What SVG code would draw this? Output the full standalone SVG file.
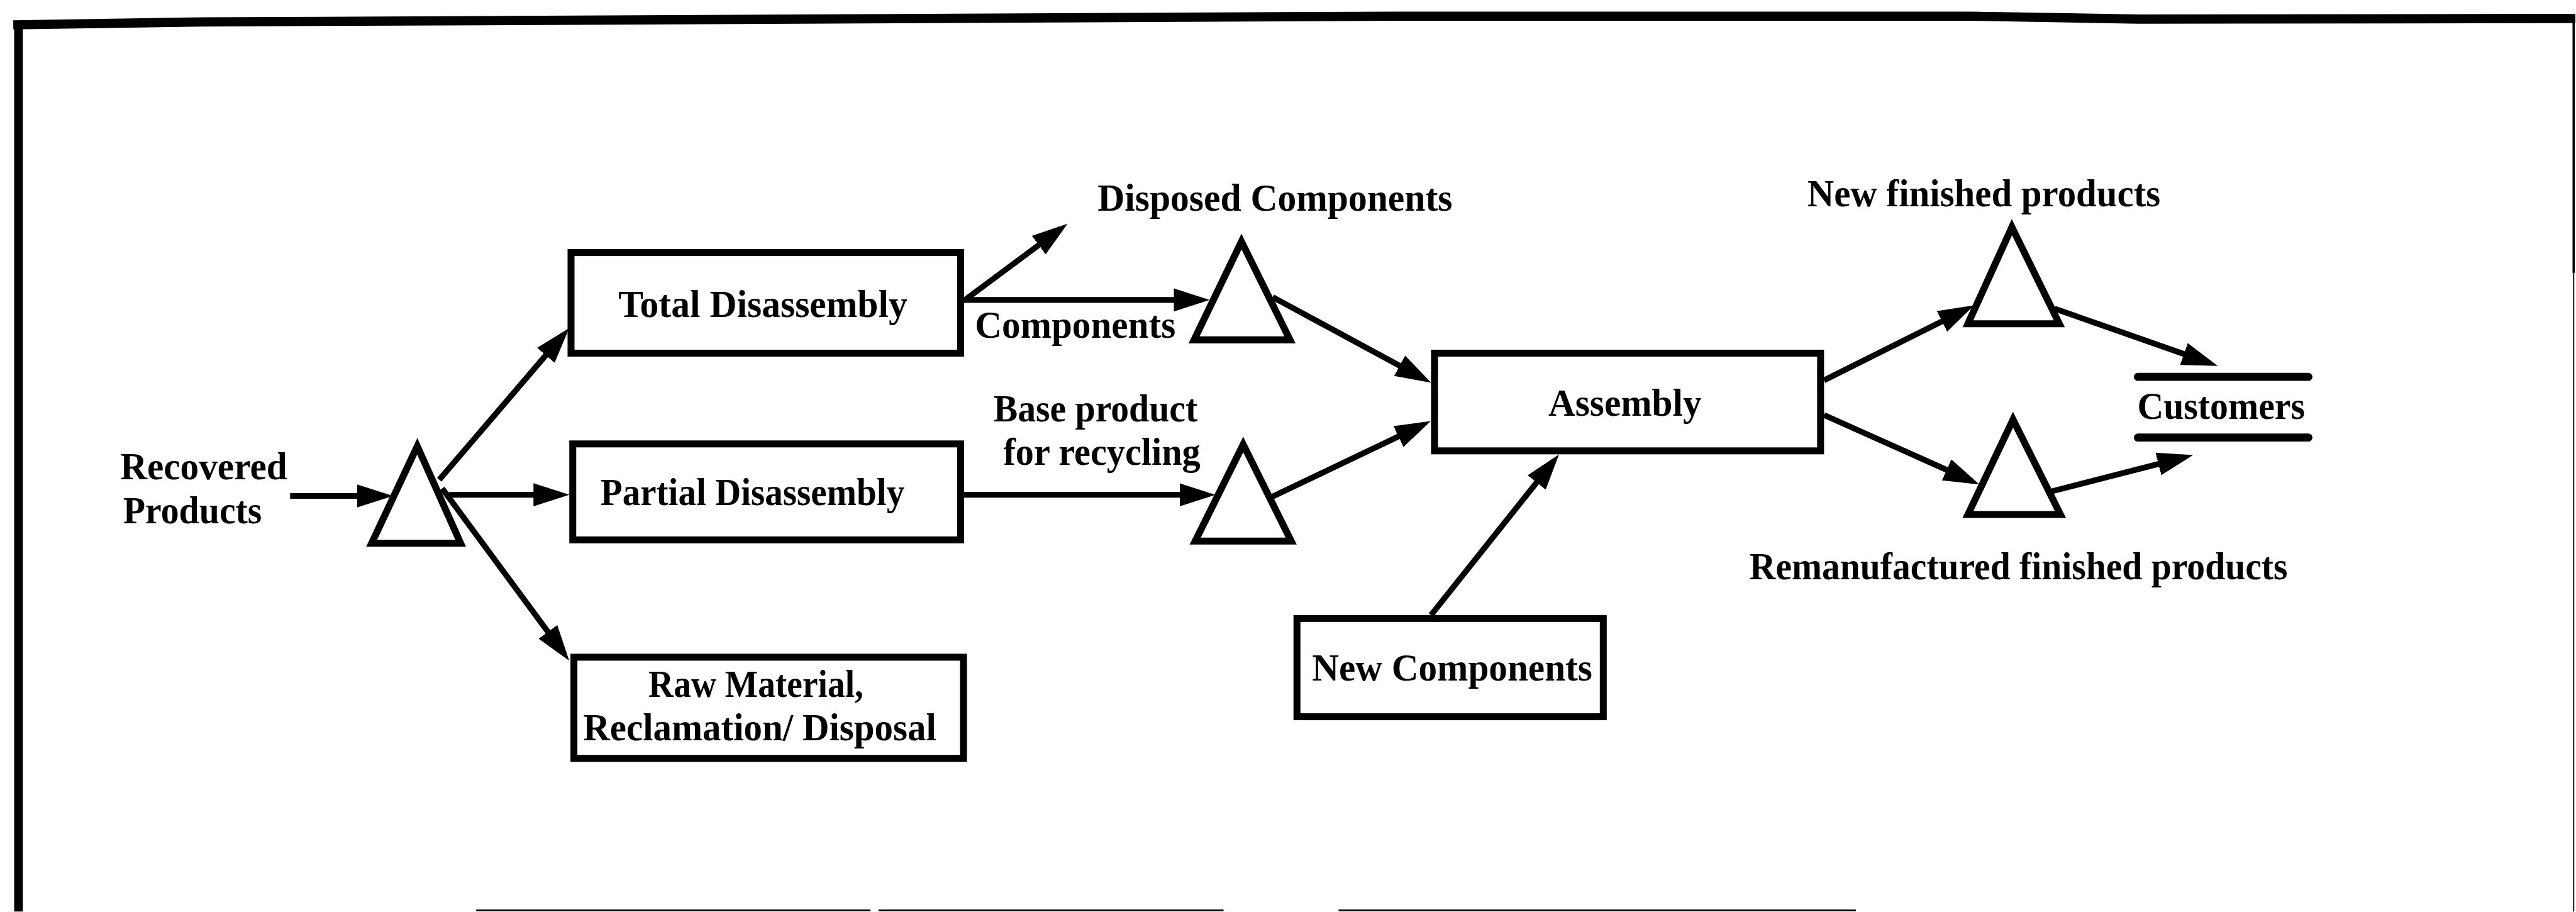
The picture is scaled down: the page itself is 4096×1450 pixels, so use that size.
<svg xmlns="http://www.w3.org/2000/svg" width="4096" height="1450" viewBox="0 0 4096 1450">
  <style>
    .box { fill: #fff; stroke: #000; stroke-width: 12; }
    .tri { fill: #fff; stroke: #000; stroke-width: 12; stroke-linejoin: miter; }
    .edge { fill: none; stroke: #000; stroke-width: 10; marker-end: url(#head); }
    .rule { fill: none; stroke: #000; stroke-width: 14; stroke-linecap: round; }
    .frame { fill: none; stroke: #000; }
    .lbl { font-family: "Liberation Serif", "Times New Roman", serif; font-weight: bold; font-size: 67px; fill: #000; }
  </style>
  <defs>
    <marker id="head" viewBox="0 0 62 42" refX="47" refY="21" markerWidth="62" markerHeight="42" markerUnits="userSpaceOnUse" orient="auto">
      <path d="M0,1 L62,21 L0,41 Z" fill="#000"/>
    </marker>
  </defs>
  <rect width="4096" height="1450" fill="#fff"/>
  <g transform="scale(0.919)">
    <!-- page frame -->
    <g id="frame">
      <path class="frame" stroke-width="16" d="M23 43 L350 38 L2415 28 L3410 28 L3700 33 L4456 32"/>
      <path class="frame" stroke-width="15" d="M32 36 L32 1577"/>
      <path class="frame" stroke-width="4" d="M4453 32 L4453 472"/>
      <path class="frame" stroke-width="2" stroke="#999" d="M4453 472 L4453 1577"/>
      <path class="frame" stroke-width="3" stroke="#bbb" d="M824 1575 L1506 1575 M1520 1575 L2117 1575 M2316 1575 L3211 1575"/>
    </g>

    <!-- connectors -->
    <g id="connectors">
      <path class="edge" d="M502 858 L665 858"/>
      <path class="edge" d="M760 830 L975 579"/>
      <path class="edge" d="M777 856 L970 856"/>
      <path class="edge" d="M765 845 L976 1131"/>
      <path class="edge" d="M1668 520 L1835 396"/>
      <path class="edge" d="M1668 519 L2078 519"/>
      <path class="edge" d="M2202 514 L2463 655"/>
      <path class="edge" d="M1668 856 L2088 856"/>
      <path class="edge" d="M2202 859 L2462 735"/>
      <path class="edge" d="M2476 1064 L2688 798"/>
      <path class="edge" d="M3156 658 L3402 535"/>
      <path class="edge" d="M3555 534 L3823 628"/>
      <path class="edge" d="M3156 718 L3411 832"/>
      <path class="edge" d="M3550 850 L3780 791"/>
    </g>

    <!-- nodes -->
    <g id="recovered-products">
      <text class="lbl" x="208" y="829" textLength="289" lengthAdjust="spacingAndGlyphs">Recovered</text>
      <text class="lbl" x="213" y="905" textLength="240" lengthAdjust="spacingAndGlyphs">Products</text>
    </g>

    <g id="inventory-recovered">
      <polygon class="tri" points="722,772 797,940 643,940"/>
    </g>

    <g id="total-disassembly">
      <rect class="box" x="988" y="437" width="674" height="174"/>
      <text class="lbl" x="1070" y="548" textLength="500" lengthAdjust="spacingAndGlyphs">Total Disassembly</text>
    </g>

    <g id="partial-disassembly">
      <rect class="box" x="991" y="768" width="671" height="166"/>
      <text class="lbl" x="1039" y="874" textLength="526" lengthAdjust="spacingAndGlyphs">Partial Disassembly</text>
    </g>

    <g id="raw-material">
      <rect class="box" x="993" y="1137" width="674" height="175"/>
      <text class="lbl" x="1122" y="1206" textLength="372" lengthAdjust="spacingAndGlyphs">Raw Material,</text>
      <text class="lbl" x="1009" y="1281" textLength="611" lengthAdjust="spacingAndGlyphs">Reclamation/ Disposal</text>
    </g>

    <g id="disposed-components">
      <text class="lbl" x="1899" y="365" textLength="614" lengthAdjust="spacingAndGlyphs">Disposed Components</text>
    </g>

    <g id="components-label">
      <text class="lbl" x="1687" y="584" textLength="347" lengthAdjust="spacingAndGlyphs">Components</text>
    </g>

    <g id="inventory-components">
      <polygon class="tri" points="2148,418 2232,588 2066,588"/>
    </g>

    <g id="base-product-label">
      <text class="lbl" x="1719" y="729" textLength="353" lengthAdjust="spacingAndGlyphs">Base product</text>
      <text class="lbl" x="1736" y="804" textLength="341" lengthAdjust="spacingAndGlyphs">for recycling</text>
    </g>

    <g id="inventory-base">
      <polygon class="tri" points="2151,769 2234,936 2068,936"/>
    </g>

    <g id="assembly">
      <rect class="box" x="2482" y="611" width="668" height="169"/>
      <text class="lbl" x="2679" y="719" textLength="265" lengthAdjust="spacingAndGlyphs">Assembly</text>
    </g>

    <g id="new-components">
      <rect class="box" x="2244" y="1070" width="530" height="170"/>
      <text class="lbl" x="2270" y="1177" textLength="485" lengthAdjust="spacingAndGlyphs">New Components</text>
    </g>

    <g id="new-finished-products">
      <text class="lbl" x="3127" y="357" textLength="611" lengthAdjust="spacingAndGlyphs">New finished products</text>
      <polygon class="tri" points="3481,393 3563,560 3405,560"/>
    </g>

    <g id="remanufactured-finished-products">
      <polygon class="tri" points="3483,726 3565,890 3405,890"/>
      <text class="lbl" x="3027" y="1002" textLength="931" lengthAdjust="spacingAndGlyphs">Remanufactured finished products</text>
    </g>

    <g id="customers">
      <path class="rule" d="M3699 652 L3994 652"/>
      <text class="lbl" x="3698" y="725" textLength="290" lengthAdjust="spacingAndGlyphs">Customers</text>
      <path class="rule" d="M3699 757 L3994 757"/>
    </g>
  </g>
</svg>
